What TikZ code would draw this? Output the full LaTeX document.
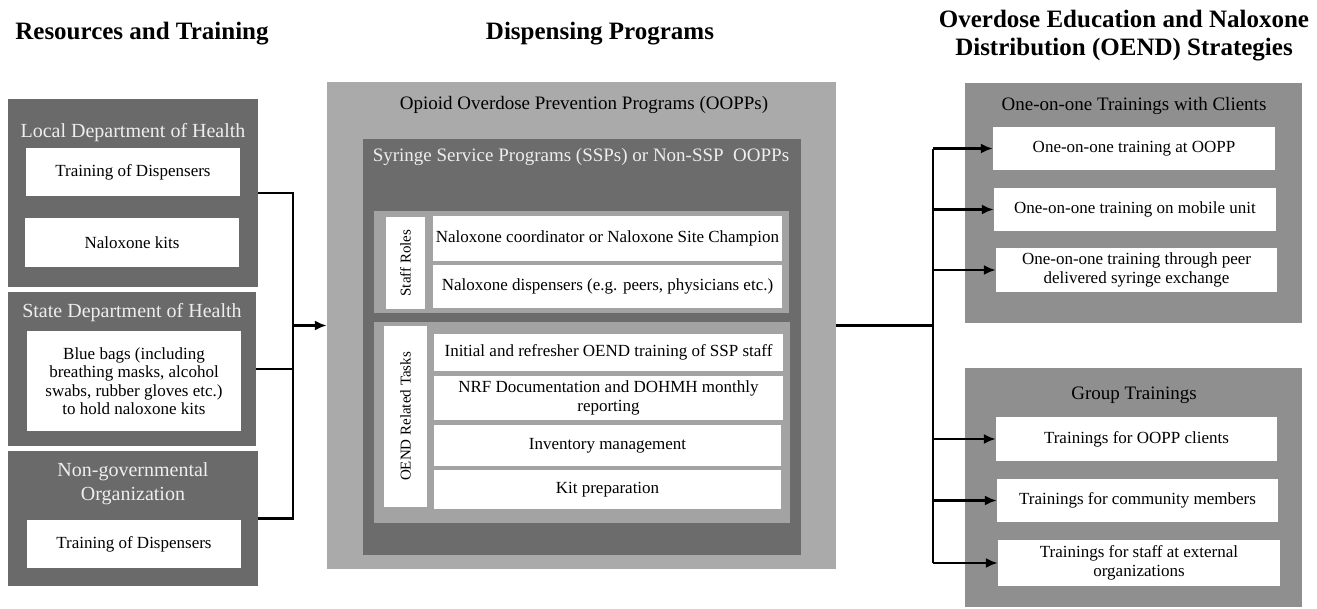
\documentclass[tikz,border=0pt]{standalone}
\usepackage{fontspec}
\setmainfont{Liberation Serif}
\usepackage{tikz}
\usetikzlibrary{positioning,calc,arrows.meta}

\definecolor{leftdark}{RGB}{106,106,106}
\definecolor{ooppgray}{RGB}{170,170,170}
\definecolor{sspdark}{RGB}{108,108,108}
\definecolor{innergray}{RGB}{163,163,163}
\definecolor{rightgray}{RGB}{143,143,143}
\definecolor{titlewhite}{RGB}{238,238,238}

\tikzset{
  heading/.style={font=\fontsize{25}{28}\selectfont\bfseries, align=center},
  panel/.style={fill=#1, inner sep=0pt},
  title/.style={font=\fontsize{20}{24}\selectfont, align=center},
  whitebox/.style={fill=white, inner sep=0pt, align=center, font=\fontsize{17}{18.5}\selectfont},
  sidelabel/.style={fill=white, inner sep=0pt, font=\fontsize{15}{17}\selectfont},
  link/.style={line width=2.6pt},
  linkarrow/.style={line width=2.4pt, -{Latex[length=12pt,width=10pt]}}
}

\begin{document}
\begin{tikzpicture}[x=1pt, y=-1pt]
\useasboundingbox (0,0) rectangle (1317,608);

% Headings
\node[heading] (hres) at (142,34) {Resources and Training};
\node[heading] (hdisp) at (600,34) {Dispensing Programs};
\node[heading] (hoend) at (1124,36) {Overdose Education and Naloxone\\Distribution (OEND) Strategies};

% Resources and Training
\node[panel=leftdark, minimum width=250pt, minimum height=188pt] (local) at (133,193) {};
\node[title, text=titlewhite] (localT) at (133,133) {Local Department of Health};
\node[whitebox, minimum width=214pt, minimum height=48pt] (localA) at (133,172) {Training of Dispensers};
\node[whitebox, minimum width=214pt, minimum height=49pt] (localB) at (132,242.5) {Naloxone kits};

\node[panel=leftdark, minimum width=248pt, minimum height=154pt] (state) at (132,369) {};
\node[title, text=titlewhite] (stateT) at (132,313) {State Department of Health};
\node[whitebox, minimum width=214pt, minimum height=100pt] (stateA) at (134,381) {Blue bags (including\\breathing masks, alcohol\\swabs, rubber gloves etc.)\\to hold naloxone kits};

\node[panel=leftdark, minimum width=250pt, minimum height=135pt] (ngo) at (133,518.5) {};
\node[title, text=titlewhite] (ngoT) at (133,484) {Non-governmental\\Organization};
\node[whitebox, minimum width=214pt, minimum height=48pt] (ngoA) at (134,544) {Training of Dispensers};

% Dispensing Programs
\node[panel=ooppgray, minimum width=509pt, minimum height=487pt] (oopp) at (581.5,325.5) {};
\node[title, font=\fontsize{19}{23}\selectfont] (ooppT) at (584,105) {Opioid Overdose Prevention Programs (OOPPs)};
\node[panel=sspdark, minimum width=438pt, minimum height=416pt] (ssp) at (582,347) {};
\node[title, font=\fontsize{19}{23}\selectfont, text=titlewhite] (sspT) at (581,157) {Syringe Service Programs (SSPs) or Non-SSP\ \ OOPPs};

\node[panel=innergray, minimum width=415pt, minimum height=102pt] (staff) at (581.5,262) {};
\node[sidelabel, minimum width=92pt, minimum height=39pt, rotate=90] (staffL) at (405.5,263) {Staff Roles};
\node[whitebox, minimum width=349pt, minimum height=45pt] (roleA) at (607.5,238.5) {Naloxone coordinator or Naloxone Site Champion};
\node[whitebox, minimum width=349pt, minimum height=43pt] (roleB) at (607.5,286.5) {Naloxone dispensers (e.g. peers, physicians etc.)};

\node[panel=innergray, minimum width=416pt, minimum height=201pt] (oend) at (582,422.5) {};
\node[sidelabel, minimum width=181pt, minimum height=43pt, rotate=90] (oendL) at (405.5,416.5) {OEND Related Tasks};
\node[whitebox, minimum width=349pt, minimum height=37pt] (taskA) at (608.5,352.5) {Initial and refresher OEND training of SSP staff};
\node[whitebox, minimum width=349pt, minimum height=44pt] (taskB) at (608.5,398) {NRF Documentation and DOHMH monthly\\reporting};
\node[whitebox, minimum width=347pt, minimum height=41pt] (taskC) at (607.5,445.5) {Inventory management};
\node[whitebox, minimum width=347pt, minimum height=39pt] (taskD) at (607.5,489.5) {Kit preparation};

% OEND Strategies
\node[panel=rightgray, minimum width=337pt, minimum height=240pt] (one) at (1133.5,203) {};
\node[title, font=\fontsize{19}{23}\selectfont] (oneT) at (1134,106) {One-on-one Trainings with Clients};
\node[whitebox, minimum width=282pt, minimum height=43pt] (oneA) at (1134,148.5) {One-on-one training at OOPP};
\node[whitebox, minimum width=282pt, minimum height=43pt] (oneB) at (1135,209.5) {One-on-one training on mobile unit};
\node[whitebox, minimum width=281pt, minimum height=44pt] (oneC) at (1136.5,270) {One-on-one training through peer\\delivered syringe exchange};

\node[panel=rightgray, minimum width=337pt, minimum height=239pt] (group) at (1133.5,487.5) {};
\node[title, font=\fontsize{19}{23}\selectfont] (groupT) at (1134,395) {Group Trainings};
\node[whitebox, minimum width=281pt, minimum height=44pt] (grpA) at (1136.5,439) {Trainings for OOPP clients};
\node[whitebox, minimum width=281pt, minimum height=43pt] (grpB) at (1137.5,500.5) {Trainings for community members};
\node[whitebox, minimum width=282pt, minimum height=46pt] (grpC) at (1139,563) {Trainings for staff at external\\organizations};

% Connections
\coordinate (jl) at (293,325.5);
\coordinate (jr) at (933,325.5);
\draw[link] (local.east) -| (jl) |- (ngo.east);
\draw[link] (state.east) -- (state.east -| jl);
\draw[linkarrow] (jl) -- (oopp.west);
\draw[link] (oopp.east) -- (jr);
\draw[link] (jr) -- (jr |- oneA.west);
\draw[link] (jr) -- (jr |- grpC.west);
\foreach \t in {oneA,oneB,oneC,grpA,grpB,grpC}
  \draw[linkarrow] (jr |- \t.west) -- (\t.west);
\end{tikzpicture}
\end{document}
